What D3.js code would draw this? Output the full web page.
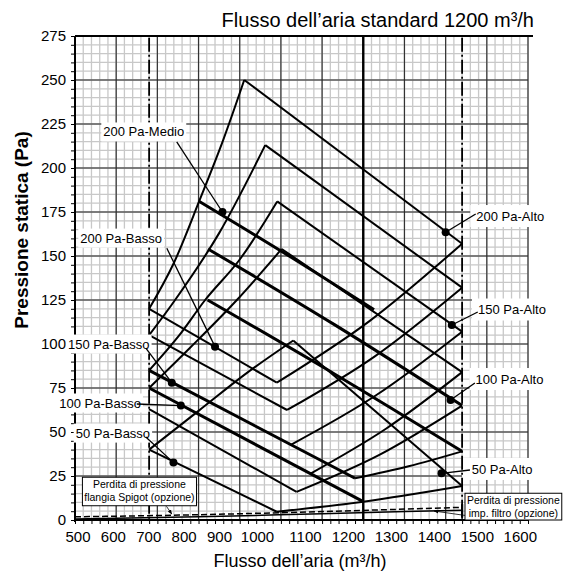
<!DOCTYPE html>
<html>
<head>
<meta charset="utf-8">
<script src="https://cdn.jsdelivr.net/npm/d3@7"></script>
<style>
  body { margin: 0; background: #fff; }
  svg { font-family: "Liberation Sans", Arial, sans-serif; }
</style>
</head>
<body>
<svg id="chart" width="565" height="571"></svg>
<script>
// axis ticks
const xTicks = [500, 600, 700, 800, 900, 1000, 1100, 1200, 1300, 1400, 1500, 1600];
const yTicks = [0, 25, 50, 75, 100, 125, 150, 175, 200, 225, 250, 275];
const flowLimits = [680, 1440];
const standardFlow = 1200;

// rising limit curves on the left side (base -> peak)
const riseLeft = [
  [[680, 120], [740, 146], [803, 182], [860, 216], [911, 250]],
  [[680, 105], [743, 125], [850, 163], [962, 213]],
  [[680, 85], [750, 104], [816, 125], [900, 148], [991, 181]],
  [[680, 75], [780, 98], [893, 125], [1002, 154]],
  [[680, 40], [800, 62], [920, 84], [1030, 102]]
];
// Alto curves (peak -> right limit)
const altoLines = [
  [[911, 250], [1440, 157]],
  [[962, 213], [1440, 132]],
  [[991, 181], [1440, 107]],
  [[1002, 154], [1440, 84]],
  [[1030, 102], [1440, 19.3]]
];
// Basso curves, thin (left limit -> bottom corner)
const bassoLines = [
  [[680, 120], [990, 78]],
  [[680, 105], [1015, 62.5]],
  [[680, 63], [1038, 16]],
  [[680, 40], [990, 4.7]]
];
// Basso curves, bold
const bassoBold = [
  [[680, 85], [1180, 23.7]],
  [[680, 75], [1200, 10.4]]
];
// Medio curves (bold)
const medioLines = [
  [[802, 181], [1020, 150], [1226, 119.5]],
  [[823, 154], [1130, 111], [1440, 65]],
  [[822, 125], [1130, 83], [1440, 39]]
];
// rising limit curves on the right side (bottom corner -> right limit)
const riseRight = [
  [[990, 78], [1215, 113], [1440, 157]],
  [[1015, 62.5], [1228, 93], [1440, 132]],
  [[1024, 42.7], [1232, 71], [1440, 107]],
  [[1072, 26.4], [1256, 52], [1440, 84]],
  [[1038, 16], [1239, 37], [1440, 65]],
  [[1180, 23.7], [1310, 30.5], [1440, 39]],
  [[990, 4.7], [1200, 10.4], [1440, 19.3]]
];
// optional accessory pressure losses
const spigotLoss = [[500, 1.8], [800, 3], [1100, 4.8], [1440, 7.2]];
const filterLoss = [[500, 0.6], [800, 1.8], [1100, 3.6], [1440, 5.6]];

// callouts: name, point on curve, label centre, leader start
const calloutNames = ['200 Pa-Medio', '200 Pa-Basso', '150 Pa-Basso', '100 Pa-Basso', '50 Pa-Basso',
  '200 Pa-Alto', '150 Pa-Alto', '100 Pa-Alto', '50 Pa-Alto'];
const calloutPoints = [[858, 175], [840, 98.5], [735, 78], [757, 65], [739, 32.6],
  [1400, 163.5], [1415, 110.8], [1412, 68.2], [1390, 26.5]];
const calloutLabels = [[667, 220.5], [612, 160.2], [582, 100], [561, 66.5], [592, 49.4],
  [1557, 172.7], [1561, 119.6], [1555, 80.1], [1537, 29]];
const calloutLeaders = [[747, 214.9], [723, 154.4], [672, 97.7], [650, 65.9], [672, 47.2],
  [1473, 173.9], [1478, 118.2], [1471, 77.8], [1459, 28.4]];

const noteSpigot = ['Perdita di pressione', 'flangia Spigot (opzione)'];
const noteFilter = ['Perdita di pressione', 'imp. filtro (opzione)'];
// note pointers: from box edge to the loss curve
const spigotPointer = [[722, 7.8], [735, 3.4]];
const filterPointer = [[1447, 2.6], [1372, 5.1]];

const svg = d3.select('#chart');
const x = d3.scaleLinear().domain([500, 1600]).range([75, 528]);
const y = d3.scaleLinear().domain([0, 275]).range([520, 36]);
// tick labels in the source drawing drift from the grid
const xLabelPos = d3.scaleLinear().domain([500, 900, 1000, 1100, 1600]).range([78, 219.5, 257.5, 305.5, 520.3]);

const line = d3.line().x(d => x(d[0])).y(d => y(d[1]));
const curve = d3.line().x(d => x(d[0])).y(d => y(d[1])).curve(d3.curveMonotoneX);

svg.append('defs').append('marker')
  .attr('id', 'arrow').attr('viewBox', '0 0 10 10').attr('refX', 9).attr('refY', 5)
  .attr('markerWidth', 6).attr('markerHeight', 6).attr('orient', 'auto')
  .append('path').attr('d', 'M0,1L10,5L0,9z').attr('fill', '#000');

// grid
const grid = svg.append('g');
grid.selectAll('.vmin').data(d3.range(500, 1601, 20)).enter().append('line')
  .attr('x1', d => x(d)).attr('x2', d => x(d)).attr('y1', y(275)).attr('y2', y(0))
  .attr('stroke', '#c8c8c8').attr('stroke-width', 1.3);
grid.selectAll('.hmin').data(d3.range(0, 276, 5)).enter().append('line')
  .attr('x1', x(500)).attr('x2', x(1600)).attr('y1', d => y(d)).attr('y2', d => y(d))
  .attr('stroke', '#c8c8c8').attr('stroke-width', 1.3);
grid.selectAll('.vmaj').data(xTicks).enter().append('line')
  .attr('x1', d => x(d)).attr('x2', d => x(d)).attr('y1', y(275)).attr('y2', y(0))
  .attr('stroke', '#333').attr('stroke-width', 1.2);
grid.selectAll('.hmaj').data(yTicks).enter().append('line')
  .attr('x1', x(500)).attr('x2', x(1600)).attr('y1', d => y(d)).attr('y2', d => y(d))
  .attr('stroke', '#222').attr('stroke-width', 1.2);

// white label backgrounds on the right side
const rightPad = svg.append('g');
calloutNames.forEach((name, i) => {
  if (i < 5) return;
  const c = calloutLabels[i];
  rightPad.append('rect')
    .attr('x', x(c[0]) - 40).attr('y', y(c[1]) - 11)
    .attr('width', 80).attr('height', 22).attr('fill', '#fff');
});

// frame and axes
svg.append('line').attr('x1', x(500)).attr('x2', x(1600) + 5).attr('y1', y(275)).attr('y2', y(275))
  .attr('stroke', '#000').attr('stroke-width', 2);
svg.append('line').attr('x1', x(500)).attr('x2', x(500)).attr('y1', y(275)).attr('y2', y(0) + 2)
  .attr('stroke', '#000').attr('stroke-width', 2);
svg.append('line').attr('x1', x(500)).attr('x2', x(1600)).attr('y1', y(0)).attr('y2', y(0))
  .attr('stroke', '#000').attr('stroke-width', 2);

const yAxis = d3.axisLeft(y).tickValues(d3.range(0, 276, 5)).tickSize(4).tickFormat('');
svg.append('g').attr('transform', `translate(${x(500)},0)`).call(yAxis)
  .call(g => g.select('.domain').remove());
const xAxis = d3.axisBottom(x).tickValues(d3.range(500, 1601, 20)).tickSize(4).tickFormat('');
svg.append('g').attr('transform', `translate(0,${y(0)})`).call(xAxis)
  .call(g => g.select('.domain').remove());

svg.selectAll('.ylab').data(yTicks).enter().append('text')
  .attr('x', x(500) - 9).attr('y', d => y(d)).attr('dy', '0.35em')
  .attr('text-anchor', 'end').attr('font-size', 15).text(d => d);
svg.selectAll('.xlab').data(xTicks).enter().append('text')
  .attr('x', d => xLabelPos(d)).attr('y', y(0) + 22)
  .attr('text-anchor', 'middle').attr('font-size', 15).text(d => d);

// standard flow and flow limits
svg.append('line').attr('x1', x(standardFlow)).attr('x2', x(standardFlow))
  .attr('y1', y(275)).attr('y2', y(0)).attr('stroke', '#000').attr('stroke-width', 2.4);
svg.selectAll('.lim').data(flowLimits).enter().append('line')
  .attr('x1', d => x(d)).attr('x2', d => x(d)).attr('y1', y(274)).attr('y2', y(0))
  .attr('stroke', '#000').attr('stroke-width', 1.8).attr('stroke-dasharray', '14,3,2,3');

// fan curves
const curves = svg.append('g').attr('fill', 'none').attr('stroke', '#000');
curves.selectAll('.rl').data(riseLeft).enter().append('path').attr('d', curve).attr('stroke-width', 2);
curves.selectAll('.rr').data(riseRight).enter().append('path').attr('d', curve).attr('stroke-width', 2);
curves.selectAll('.al').data(altoLines).enter().append('path').attr('d', line).attr('stroke-width', 2);
curves.selectAll('.ba').data(bassoLines).enter().append('path').attr('d', line).attr('stroke-width', 2);
curves.selectAll('.bb').data(bassoBold).enter().append('path').attr('d', line).attr('stroke-width', 3);
curves.selectAll('.me').data(medioLines).enter().append('path').attr('d', curve).attr('stroke-width', 3);

// accessory losses
curves.append('path').datum(spigotLoss).attr('d', curve).attr('stroke-width', 1.5).attr('stroke-dasharray', '6,3');
curves.append('path').datum(filterLoss).attr('d', curve).attr('stroke-width', 1.5);
curves.append('line').attr('x1', x(1440)).attr('x2', x(1440)).attr('y1', y(9)).attr('y2', y(1.5))
  .attr('stroke-width', 2.2);

// callouts
const call = svg.append('g');
calloutNames.forEach((name, i) => {
  const p = calloutPoints[i], c = calloutLabels[i], l = calloutLeaders[i];
  const t = call.append('text').attr('x', x(c[0])).attr('y', y(c[1])).attr('dy', '0.35em')
    .attr('text-anchor', 'middle').attr('font-size', 13).text(name);
  const bb = t.node().getBBox();
  call.insert('rect', 'text').attr('x', bb.x - 2).attr('y', bb.y - 2)
    .attr('width', bb.width + 4).attr('height', bb.height + 4).attr('fill', '#fff');
  call.append('line').attr('x1', x(l[0])).attr('y1', y(l[1])).attr('x2', x(p[0])).attr('y2', y(p[1]))
    .attr('stroke', '#000').attr('stroke-width', 1.3);
  call.append('circle').attr('cx', x(p[0])).attr('cy', y(p[1])).attr('r', 4).attr('fill', '#000');
});

// note boxes
function noteBox(lines, x0, x1, p0, p1, fontSize, pointer) {
  const g = svg.append('g');
  g.append('rect').attr('x', x(x0)).attr('y', y(p0)).attr('width', x(x1) - x(x0)).attr('height', y(p1) - y(p0))
    .attr('fill', '#fff').attr('stroke', '#000').attr('stroke-width', 1);
  lines.forEach((s, i) => {
    g.append('text').attr('x', (x(x0) + x(x1)) / 2).attr('y', y(p0) + 11 + i * 12.5)
      .attr('text-anchor', 'middle').attr('font-size', fontSize).text(s);
  });
  g.append('path').datum(pointer).attr('d', line).attr('stroke', '#000').attr('stroke-width', 0.8)
    .attr('fill', 'none').attr('marker-end', 'url(#arrow)');
}
noteBox(noteSpigot, 518, 795, 24.3, 8.1, 10.5, spigotPointer);
noteBox(noteFilter, 1447, 1682, 15.2, 0, 10.5, filterPointer);

// titles
svg.append('text').attr('x', 534).attr('y', 27).attr('text-anchor', 'end')
  .attr('font-size', 20).text('Flusso dell\u2019aria standard 1200 m\u00b3/h');
svg.append('text').attr('x', 300).attr('y', 567).attr('text-anchor', 'middle')
  .attr('font-size', 18).text('Flusso dell\u2019aria (m\u00b3/h)');
svg.append('text').attr('transform', 'translate(28,230) rotate(-90)').attr('text-anchor', 'middle')
  .attr('font-size', 19).attr('font-weight', 'bold').text('Pressione statica (Pa)');
</script>
</body>
</html>
